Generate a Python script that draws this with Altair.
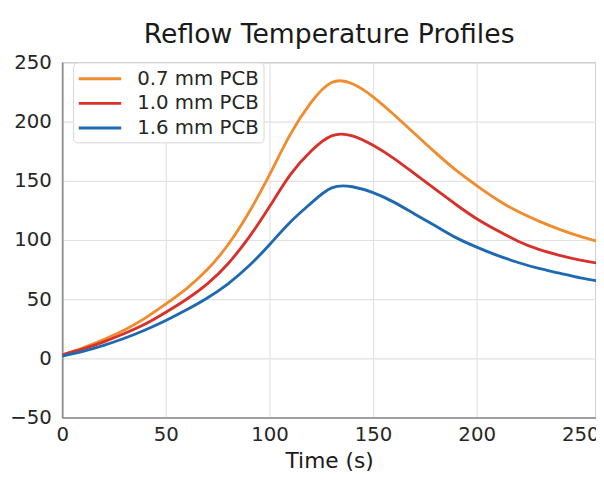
import altair as alt
import pandas as pd

# ---- data ----
times = [0, 10, 20, 30, 40, 50, 60, 70, 80, 90, 100, 110, 120, 130,
         140, 150, 160, 170, 180, 190, 200, 210, 220, 230, 240, 250, 260]
temp_07 = [3, 9, 16, 24, 34, 46, 59, 75, 96, 123, 155, 189, 216, 233,
           232, 221, 206, 190, 174, 159, 146, 134, 124, 116, 109, 103, 98]
temp_10 = [3, 8, 14, 21, 29, 39, 50, 63, 80, 102, 128, 155, 175, 188,
           188, 180, 169, 156, 143, 130, 118, 108, 99, 92, 87, 83, 80]
temp_16 = [2, 6, 11, 17, 24, 32, 41, 51, 63, 78, 96, 115, 131, 144,
           145, 140, 132, 122, 112, 102, 94, 87, 81, 76, 72, 68, 65]

series = ["0.7 mm PCB", "1.0 mm PCB", "1.6 mm PCB"]
colors = ["#f08c2e", "#d8312a", "#1f68b2"]
x_ticks = [0, 50, 100, 150, 200, 250]
y_ticks = [-50, 0, 50, 100, 150, 200, 250]
x_domain = [0, 257.6]
y_domain = [-50, 250]

rows = []
for name, vals in zip(series, [temp_07, temp_10, temp_16]):
    for t, v in zip(times, vals):
        rows.append({"Time": t, "Temp": v, "Series": name})
df = pd.DataFrame(rows)

chart = alt.Chart(df).mark_line(
    strokeWidth=2.9, interpolate="natural", clip=True
).encode(
    x=alt.X(
        "Time:Q",
        scale=alt.Scale(domain=x_domain, nice=False, zero=False),
        axis=alt.Axis(
            values=x_ticks, title="Time (s)", titleFontSize=22, titleFontWeight="normal",
            titleY=51, titleBaseline="alphabetic", titleColor="#1a1a1a",
            labelFontSize=20, labelPadding=7, labelFlush=False, labelColor="#262626",
            ticks=False,
            gridOpacity={"condition": {"test": "datum.value == 250", "value": 0}, "value": 1},
        ),
    ),
    y=alt.Y(
        "Temp:Q",
        scale=alt.Scale(domain=y_domain, nice=False),
        axis=alt.Axis(values=y_ticks, title=None, labelFontSize=20, labelPadding=11,
                      labelColor="#262626", ticks=False),
    ),
    color=alt.Color(
        "Series:N",
        scale=alt.Scale(domain=series, range=colors),
        legend=alt.Legend(
            title=None, orient="none", legendX=11, legendY=0,
            symbolType="M-1,0L3,0", symbolSize=462, symbolStrokeWidth=3,
            labelFontSize=20, labelOffset=36, labelColor="#262626",
            rowPadding=2, padding=4,
            strokeColor="#d6d6d6", fillColor="white", cornerRadius=4,
        ),
    ),
).properties(
    width=541,
    height=360,
    autosize=alt.AutoSizeParams(type="none"),
    padding={"left": 55, "top": 52, "right": 0, "bottom": 53},
    title=alt.TitleParams(
        "Reflow Temperature Profiles", fontSize=27, fontWeight="normal",
        color="#1a1a1a", offset=4, anchor="middle",
    ),
).configure(
    font="DejaVu Sans"
).configure_axis(
    gridColor="#e2e2e2", gridWidth=1.2,
    domainColor="#8f8f8f", domainWidth=1.6,
).configure_view(
    stroke="#9a9a9a", strokeWidth=1.3
)

chart.save("out.html", embed_options={"renderer": "svg", "actions": False})
